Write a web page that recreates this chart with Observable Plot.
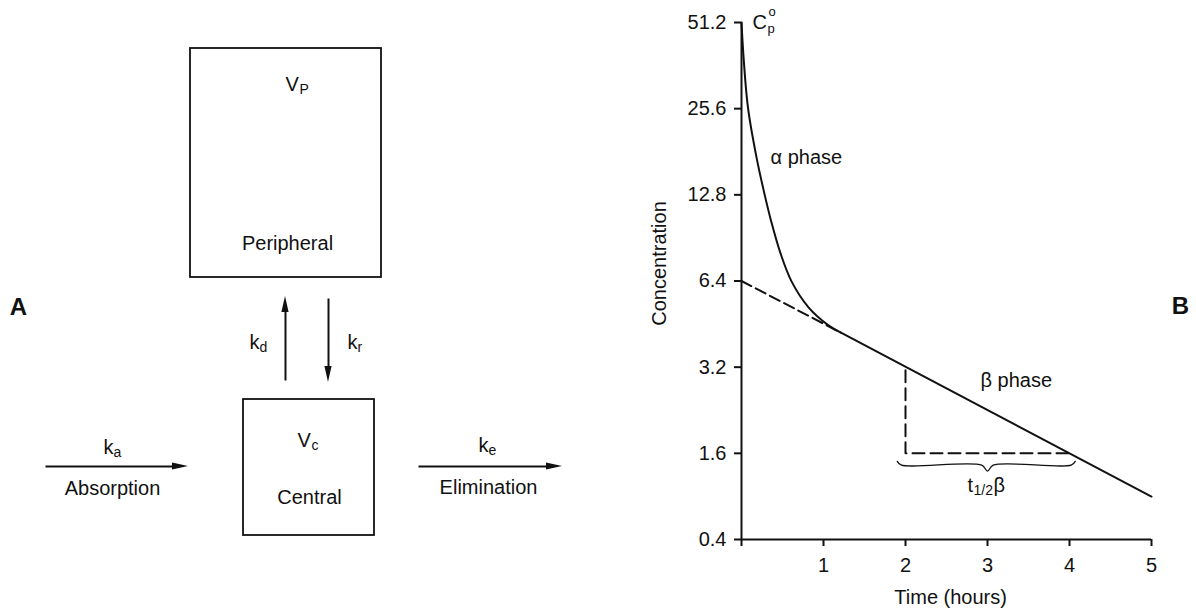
<!DOCTYPE html>
<html><head><meta charset="utf-8">
<script src="https://cdn.jsdelivr.net/npm/d3@7"></script>
<script src="https://cdn.jsdelivr.net/npm/@observablehq/plot@0.6"></script>
<style>
body{margin:0;background:#fff;}
#wrap{position:relative;width:1196px;height:614px;overflow:hidden;font-family:"Liberation Sans",Arial,Helvetica,sans-serif;}
#left{position:absolute;left:0;top:0;}
#right{position:absolute;left:600px;top:0;}
</style></head><body><div id="wrap"><div id="left"></div><div id="right"></div></div>
<script>
// ================= Panel B: plasma concentration (log scale) =================
const yTicks = [0.8, 1.6, 3.2, 6.4, 12.8, 25.6, 51.2];
const yTickLabels = ["0.4", "1.6", "3.2", "6.4", "12.8", "25.6", "51.2"];
const xTicks = [0, 1, 2, 3, 4, 5];
const xTickLabels = ["", "1", "2", "3", "4", "5"];
// alpha (distribution) phase curve
const alphaTime = [0, 0.028, 0.079, 0.183, 0.28, 0.36, 0.476, 0.61, 0.817, 1.061, 1.207];
const alphaConc = [51.2, 37.7, 25.8, 17.3, 12.9, 10.4, 7.99, 6.38, 5.18, 4.48, 4.23];
// beta (elimination) phase, straight on the log scale
const betaTime = [1.207, 5];
const betaConc = [4.23, 1.13];
// back-extrapolated beta line to the intercept
const extrapTime = [0, 1.207];
const extrapConc = [6.4, 4.23];
// half-life construction
const halfTime = [2, 2, 4.02];
const halfConc = [3.12, 1.6, 1.6];
// brace under the half-life
const braceTime = [1.9, 1.95, 2.93, 3.0, 3.07, 4.02, 4.07];
const braceConc = [1.50, 1.455, 1.455, 1.387, 1.455, 1.455, 1.50];
// annotation texts
const phaseLabels = ["α phase", "β phase"];
const phaseTime = [0.354, 2.915];
const phaseConc = [17.3, 2.88];
const xLabel = "Time (hours)";
const yLabel = "Concentration";

// ================= Panel A: two-compartment model =================
const compartments = ["Peripheral", "Central"];
const volumeSubs = ["P", "c"];
const rateSubs = ["a", "d", "r", "e"];
const processes = ["Absorption", "Elimination"];
const panelLetters = ["A", "B"];

// ---- diagram layout (diagram units) ----
const boxLayout = [
  {x1: 190, x2: 381, y1: 48, y2: 277},
  {x1: 243, x2: 374, y1: 399, y2: 535}
];
const arrowLayout = [
  {x1: 45, y1: 466, x2: 188, y2: 466},   // absorption
  {x1: 285, y1: 380, x2: 285, y2: 296},  // k_d
  {x1: 328, y1: 298, x2: 328, y2: 382},  // k_r
  {x1: 418, y1: 466, x2: 562, y2: 466}   // elimination
];
const volAnchor = [{x: 285, y: 84}, {x: 297, y: 440}];
const nameAnchor = [{x: 287, y: 243}, {x: 309, y: 497}];
const rateAnchor = [{x: 103, y: 447}, {x: 249, y: 342}, {x: 347, y: 342}, {x: 478, y: 445}];
const processAnchor = [{x: 112, y: 488}, {x: 488, y: 487}];

const INK = "#111";
const FONT = "Liberation Sans, Arial, Helvetica, sans-serif";

// arrowheads derived from arrow endpoints
const HL = 16, HW = 3.6;
const headsH = [], headsV = [];
arrowLayout.forEach((a, i) => {
  if (a.y1 === a.y2) {
    const s = Math.sign(a.x2 - a.x1);
    headsH.push({id: i, x: a.x2 - s * HL, y1: a.y2 - HW, y2: a.y2 + HW});
    headsH.push({id: i, x: a.x2, y1: a.y2, y2: a.y2});
  } else {
    const s = Math.sign(a.y2 - a.y1);
    headsV.push({id: i, y: a.y2 - s * HL, x1: a.x2 - HW, x2: a.x2 + HW});
    headsV.push({id: i, y: a.y2, x1: a.x2, x2: a.x2});
  }
});
const shafts = arrowLayout.map(a => {
  const dx = Math.sign(a.x2 - a.x1), dy = Math.sign(a.y2 - a.y1);
  return {x1: a.x1, y1: a.y1, x2: a.x2 - dx * HL * 0.6, y2: a.y2 - dy * HL * 0.6};
});

const volRows = compartments.map((c, i) => ({...volAnchor[i], sub: volumeSubs[i]}));
const nameRows = compartments.map((c, i) => ({...nameAnchor[i], text: c}));
const rateRows = rateSubs.map((s, i) => ({...rateAnchor[i], sub: s}));
const procRows = processes.map((p, i) => ({...processAnchor[i], text: p}));

const left = Plot.plot({
  width: 600, height: 614, margin: 0,
  x: {domain: [0, 600], range: [0, 600], axis: null},
  y: {domain: [0, 614], range: [0, 614], axis: null},
  style: {fontFamily: FONT, fontSize: "20px", color: INK, background: "#fff"},
  marks: [
    Plot.rect(boxLayout, {x1: "x1", x2: "x2", y1: "y1", y2: "y2", fill: "none", stroke: INK, strokeWidth: 1.8}),
    Plot.link(shafts, {x1: "x1", y1: "y1", x2: "x2", y2: "y2", stroke: INK, strokeWidth: 2}),
    Plot.areaY(headsH, {x: "x", y1: "y1", y2: "y2", z: "id", fill: INK}),
    Plot.areaX(headsV, {y: "y", x1: "x1", x2: "x2", z: "id", fill: INK}),
    // volumes V_P, V_c
    Plot.text(volRows, {x: "x", y: "y", text: () => "V", textAnchor: "start", fontSize: 20, fill: INK}),
    Plot.text(volRows, {x: "x", y: "y", text: "sub", textAnchor: "start", dx: 14, dy: 5, fontSize: 14, fill: INK}),
    Plot.text(nameRows, {x: "x", y: "y", text: "text", fontSize: 20, fill: INK}),
    // rate constants k_a, k_d, k_r, k_e
    Plot.text(rateRows, {x: "x", y: "y", text: () => "k", textAnchor: "start", fontSize: 20, fill: INK}),
    Plot.text(rateRows, {x: "x", y: "y", text: "sub", textAnchor: "start", dx: 10, dy: 5, fontSize: 14, fill: INK}),
    Plot.text(procRows, {x: "x", y: "y", text: "text", fontSize: 20, fill: INK}),
    Plot.text([panelLetters[0]], {x: 18, y: 307, fontSize: 24, fontWeight: "bold", fill: INK})
  ]
});
document.getElementById("left").appendChild(left);

const alpha = alphaTime.map((t, i) => ({t, c: alphaConc[i]}));
const beta = betaTime.map((t, i) => ({t, c: betaConc[i]}));
const extrap = extrapTime.map((t, i) => ({t, c: extrapConc[i]}));
const half = halfTime.map((t, i) => ({t, c: halfConc[i]}));
const brace = braceTime.map((t, i) => ({t, c: braceConc[i]}));
const phases = phaseLabels.map((s, i) => ({s, t: phaseTime[i], c: phaseConc[i]}));

const W = 596, H = 614, ML = 141, MR = 45, MT = 22, MB = 75;
const frameW = W - ML - MR, frameH = H - MT - MB, TICK = 7;

const right = Plot.plot({
  width: W, height: H,
  marginLeft: ML, marginRight: MR, marginTop: MT, marginBottom: MB,
  style: {fontFamily: FONT, fontSize: "20px", color: INK, background: "#fff", overflow: "visible"},
  x: {domain: [0, 5], axis: null},
  y: {type: "log", domain: [0.8, 51.2], axis: null},
  marks: [
    // axes drawn through the scales
    Plot.ruleX([0], {stroke: INK, strokeWidth: 2}),
    Plot.ruleY([0.8], {stroke: INK, strokeWidth: 2}),
    Plot.tickY(yTicks, {y: d => d, insetRight: frameW - TICK, dx: -TICK, stroke: INK, strokeWidth: 2}),
    Plot.tickX(xTicks, {x: d => d, insetTop: frameH - TICK, dy: TICK, stroke: INK, strokeWidth: 2}),
    Plot.text(yTicks, {x: 0, y: d => d, text: (d, i) => yTickLabels[i], textAnchor: "end", dx: -15, fontSize: 20, fill: INK}),
    Plot.text(xTicks, {x: d => d, y: 0.8, text: (d, i) => xTickLabels[i], dy: 26, fontSize: 20, fill: INK}),
    // curves
    Plot.line(extrap, {x: "t", y: "c", stroke: INK, strokeWidth: 2, strokeDasharray: "11,5"}),
    Plot.line(half, {x: "t", y: "c", stroke: INK, strokeWidth: 2, strokeDasharray: "12,6"}),
    Plot.line(alpha, {x: "t", y: "c", stroke: INK, strokeWidth: 2, curve: "catmull-rom"}),
    Plot.line(beta, {x: "t", y: "c", stroke: INK, strokeWidth: 2}),
    Plot.line(brace, {x: "t", y: "c", stroke: INK, strokeWidth: 1.3, curve: "catmull-rom"}),
    Plot.text(phases, {x: "t", y: "c", text: "s", textAnchor: "start", fontSize: 20, fill: INK}),
    // C_p^o
    Plot.text([0], {x: 0, y: 51.2, text: () => "C", textAnchor: "start", dx: 11, fontSize: 20, fill: INK}),
    Plot.text([0], {x: 0, y: 51.2, text: () => "o", textAnchor: "start", dx: 27, dy: -11, fontSize: 13, fill: INK}),
    Plot.text([0], {x: 0, y: 51.2, text: () => "p", textAnchor: "start", dx: 26, dy: 6, fontSize: 13, fill: INK}),
    // t_1/2 beta
    Plot.text([0], {x: 3, y: 1.239, text: () => "t", textAnchor: "start", dx: -20, fontSize: 20, fill: INK}),
    Plot.text([0], {x: 3, y: 1.239, text: () => "1/2", textAnchor: "start", dx: -14, dy: 5, fontSize: 14, fill: INK}),
    Plot.text([0], {x: 3, y: 1.239, text: () => "β", textAnchor: "start", dx: 6, fontSize: 20, fill: INK}),
    // axis titles
    Plot.text([yLabel], {x: -1.0, y: 7.37, rotate: -90, fontSize: 20, fill: INK}),
    Plot.text([xLabel], {x: 2.55, y: 0.503, fontSize: 20, fill: INK}),
    Plot.text([panelLetters[1]], {x: 5.354, y: 5.21, fontSize: 24, fontWeight: "bold", fill: INK})
  ]
});
document.getElementById("right").appendChild(right);
</script>
</body></html>
